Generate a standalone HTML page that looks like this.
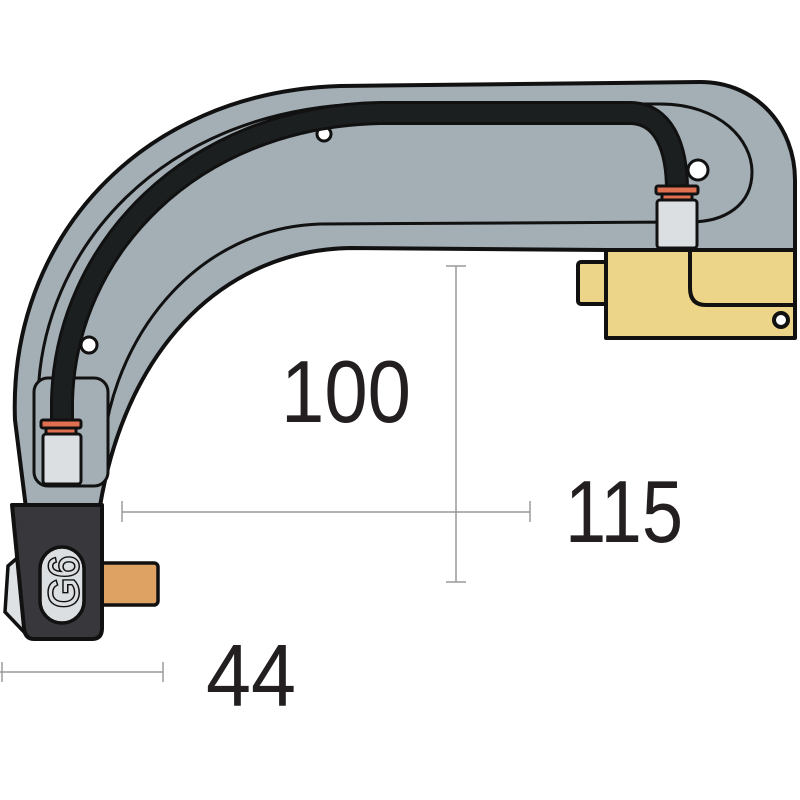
<!DOCTYPE html>
<html><head><style>html,body{margin:0;padding:0;background:#fff}svg{display:block}</style></head>
<body>
<svg width="800" height="800" viewBox="0 0 800 800" xmlns="http://www.w3.org/2000/svg">
<g stroke="#9a9a9a" stroke-width="1.5" fill="none">
<line x1="456" y1="266" x2="456" y2="582"/>
<line x1="446" y1="266" x2="466" y2="266"/>
<line x1="446" y1="582" x2="466" y2="582"/>
<line x1="122" y1="512" x2="530" y2="512"/>
<line x1="122" y1="501" x2="122" y2="522"/>
<line x1="530" y1="501" x2="530" y2="522"/>
<line x1="0" y1="672" x2="163" y2="672"/>
<line x1="2" y1="662" x2="2" y2="682"/>
<line x1="163" y1="662" x2="163" y2="682"/>
</g>
<g font-family="'Liberation Sans Narrow','Liberation Sans',sans-serif" font-size="88" fill="#231f20">
<text x="281" y="422" textLength="130" lengthAdjust="spacingAndGlyphs">100</text>
<text x="565" y="542" textLength="118" lengthAdjust="spacingAndGlyphs">115</text>
<text x="206" y="706" textLength="90" lengthAdjust="spacingAndGlyphs">44</text>
</g>

<g stroke="#111" stroke-width="4" stroke-linejoin="round" fill="#ecd488">
<rect x="578" y="262" width="32" height="42" rx="3"/>
<path d="M606,250 L795,250 L795,338 L606,338 Z"/>
<path d="M690,252 L690,288 Q690,305 706,305 L795,305" fill="none"/>
<circle cx="781" cy="320" r="7" fill="#fff"/>
</g>

<path d="M24,552 L8,566 L5,612 L24,632 Z" fill="#dfe2e4" stroke="#111" stroke-width="3.5"/>

<path d="M26,508 L15,420 C8,240 140,92 340,86 L700,82 C758,82 795,128 795,180 L795,250 L606,250 L350,248 C230,250 128,340 100,506 Z" fill="#a3aeb5" stroke="#111" stroke-width="4" stroke-linejoin="round"/>
<path d="M44,440 L38,400 C40,250 160,112 360,104 L660,104 C720,104 752,140 752,172 C752,205 725,222 690,222 L320,224 C200,228 118,330 104,440" fill="none" stroke="#111" stroke-width="3"/>
<rect x="34" y="378" width="74" height="108" rx="14" fill="#a3aeb5" stroke="#111" stroke-width="3"/>
<g fill="#fff" stroke="#111" stroke-width="3">
<circle cx="324" cy="134" r="7"/>
<circle cx="89" cy="345" r="8"/>
<circle cx="698" cy="170" r="10"/>
</g>
<path d="M62,425 L62,400 C66,250 190,117 380,113 L630,113 C665,113 677,150 677,190" fill="none" stroke="#111" stroke-width="24"/>
<path d="M62,425 L62,400 C66,250 190,117 380,113 L630,113 C665,113 677,150 677,190" fill="none" stroke="#1c1f20" stroke-width="18"/>

<g stroke="#111" stroke-width="3">
<rect x="656" y="186" width="42" height="8" rx="2" fill="#e07050"/>
<rect x="662" y="194" width="30" height="8" fill="#e07050"/>
<rect x="657" y="200" width="40" height="48" rx="3" fill="#dcdfe1"/>
<rect x="41" y="420" width="40" height="8" rx="2" fill="#e07050"/>
<rect x="46" y="428" width="30" height="8" fill="#e07050"/>
<rect x="43" y="434" width="38" height="50" rx="3" fill="#dcdfe1"/>
</g>

<rect x="100" y="563" width="58" height="42" rx="4" fill="#dea262" stroke="#111" stroke-width="3.5"/>
<path d="M12,505 L102,505 L102,628 Q102,639 92,639 L34,639 Q25,639 24,628 Z" fill="#38383c" stroke="#111" stroke-width="4" stroke-linejoin="round"/>
<rect x="40" y="547" width="44" height="76" rx="22" fill="#dcdfe1" stroke="#111" stroke-width="3.5"/>
<text x="0" y="0" transform="translate(78,608) rotate(-90)" font-family="'Liberation Sans',sans-serif" font-size="42" fill="#dcdfe1" stroke="#111" stroke-width="3" paint-order="stroke" textLength="52" lengthAdjust="spacingAndGlyphs">G6</text>
</svg>
</body></html>
